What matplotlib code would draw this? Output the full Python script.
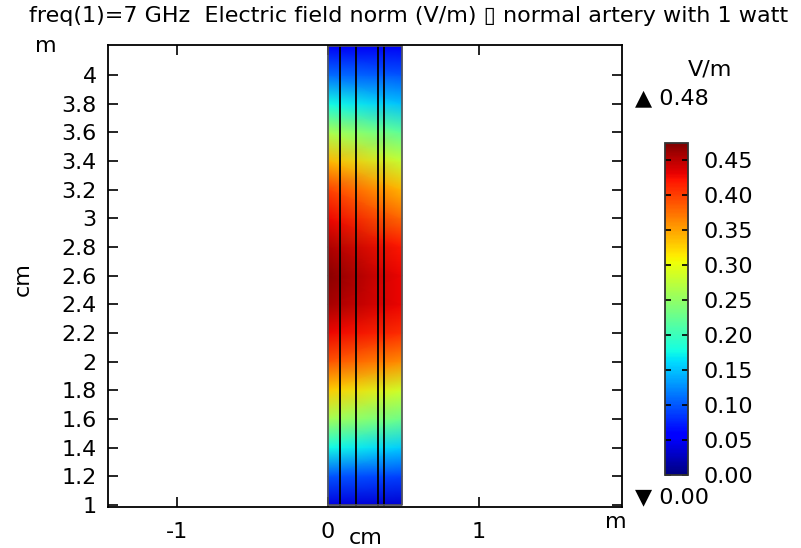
import numpy as np
import matplotlib
matplotlib.use('Agg')
import matplotlib.pyplot as plt

# Electric field norm (V/m) sampled along the artery height, left and right edges
y_cm = [1.0, 1.2, 1.4, 1.6, 1.8, 2.0, 2.2, 2.4, 2.6, 2.8, 3.0, 3.2, 3.4, 3.6, 3.8, 4.0, 4.2]
e_left = [0.04, 0.10, 0.177, 0.26, 0.33, 0.39, 0.43, 0.46, 0.47, 0.455, 0.43, 0.40, 0.34, 0.265, 0.177, 0.11, 0.05]
e_right = [0.035, 0.09, 0.155, 0.23, 0.285, 0.36, 0.41, 0.43, 0.43, 0.42, 0.38, 0.34, 0.28, 0.22, 0.15, 0.10, 0.05]

# layer boundaries across the artery wall (cm)
x_edges = [0.0, 0.49]
layer_lines = [0.08, 0.185, 0.33, 0.37]

e_min, e_max = 0.00, 0.48
cbar_ticks = [0.00, 0.05, 0.10, 0.15, 0.20, 0.25, 0.30, 0.35, 0.40, 0.45]

fs = 16

fig = plt.figure(figsize=(8.01, 5.48), dpi=100)
ax = fig.add_axes([0.1348, 0.0748, 0.6417, 0.843])

X, Y = np.meshgrid(x_edges, y_cm)
Z = np.column_stack([e_left, e_right])
mesh = ax.pcolormesh(X, Y, Z, cmap='jet', vmin=0, vmax=0.475, shading='gouraud')

for xl in layer_lines:
    ax.plot([xl, xl], [y_cm[0], y_cm[-1]], color='black', lw=1.3)
ax.plot([x_edges[0], x_edges[1], x_edges[1], x_edges[0], x_edges[0]],
        [y_cm[0], y_cm[0], y_cm[-1], y_cm[-1], y_cm[0]], color='#555555', lw=1.2)

ax.set_xlim(-1.457, 1.947)
ax.set_ylim(0.985, 4.21)
ax.set_xticks([-1, 0, 1])
ax.set_xticklabels(['-1', '0', '1'])
yt = np.round(np.arange(1.0, 4.01, 0.2), 1)
ax.set_yticks(yt)
ax.set_yticklabels(['%g' % v for v in yt])
ax.tick_params(direction='in', top=True, right=True, length=7, width=1.2, labelsize=fs)
ax.tick_params(axis='y', pad=8)
ax.tick_params(axis='x', pad=11)
for s in ax.spines.values():
    s.set_linewidth(1.3)

fig.text(0.028, 0.49, 'cm', fontsize=fs, rotation=90, ha='center', va='center')
fig.text(0.456, 0.0, 'cm', fontsize=fs, ha='center', va='bottom')
fig.text(0.044, 0.897, 'm', fontsize=fs, ha='left', va='bottom')
fig.text(0.755, 0.030, 'm', fontsize=fs, ha='left', va='bottom')

fig.text(0.036, 0.952, 'freq(1)=7 GHz  Electric field norm (V/m) \u25af normal artery with 1 watt',
         fontsize=fs, ha='left', va='bottom')

# colour legend
cax = fig.add_axes([0.830, 0.1332, 0.0287, 0.606])
cb = fig.colorbar(mesh, cax=cax, ticks=cbar_ticks)
cb.ax.tick_params(direction='in', left=True, right=True, length=4, width=1.2, labelsize=fs, pad=11)
cb.ax.set_yticklabels(['%.2f' % v for v in cbar_ticks])
cb.outline.set_edgecolor('#333333')
cb.outline.set_linewidth(1.3)

fig.text(0.887, 0.855, 'V/m', fontsize=fs, ha='center', va='bottom')
fig.text(0.793, 0.820, '\u25b2 %.2f' % e_max, fontsize=fs, ha='left', va='center')
fig.text(0.793, 0.093, '\u25bc %.2f' % e_min, fontsize=fs, ha='left', va='center')

fig.savefig('out.png', dpi=100)
